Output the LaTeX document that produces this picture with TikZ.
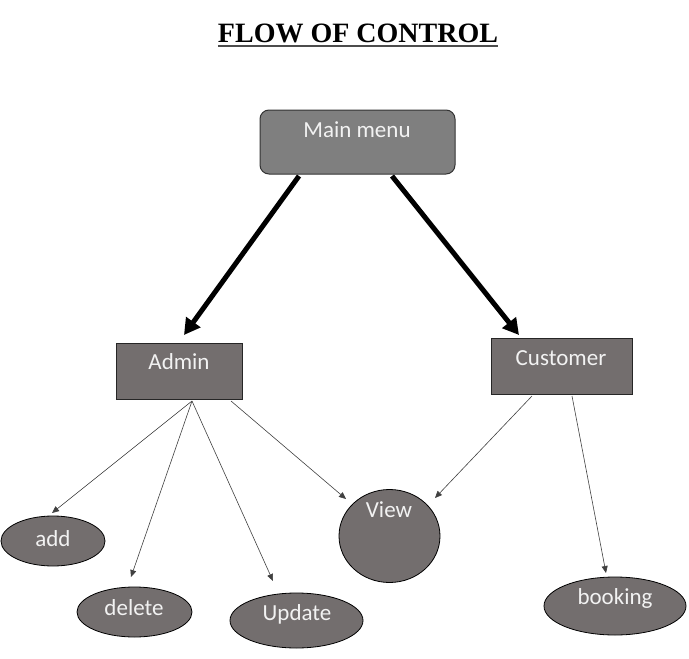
\documentclass[tikz,border=0pt]{standalone}
\usepackage{fontspec}
\setmainfont{Carlito}
\newfontfamily\titlefont{Liberation Serif}
\usetikzlibrary{arrows.meta,shapes.geometric}
\definecolor{menugray}{HTML}{7F7F7F}
\definecolor{boxgray}{HTML}{736E6E}
\definecolor{txt}{HTML}{F2F2F2}
\tikzset{
  lbl/.style={text=txt,font=\fontsize{23}{26}\selectfont,inner sep=0pt},
  rectbox/.style={draw=black!85,line width=1pt,fill=boxgray},
  ellbox/.style={ellipse,draw=black,line width=0.8pt,fill=boxgray,inner sep=0pt},
  bigarrow/.style={line width=5pt,-{Triangle[length=16pt,width=17pt]}},
  thinarrow/.style={draw=black!75,line width=0.6pt,-{Triangle[length=7pt,width=6pt]}}
}
\begin{document}
\begin{tikzpicture}[x=1pt,y=-1pt]
\useasboundingbox (0,0) rectangle (689,659);
% title
\node[font=\titlefont\bfseries\fontsize{28}{30}\selectfont,anchor=base,inner sep=0pt] (title) at (358,42) {FLOW OF CONTROL};
\draw[line width=1.4pt,black!70] (title.base west)++(0,4) coordinate (ul1) -- (ul1 -| title.base east);
% main menu
\node[draw=black!80,line width=1pt,fill=menugray,rounded corners=9pt,minimum width=195pt,minimum height=64pt] (menu) at (357.5,142) {};
\node[lbl] (menut) at (357,130) {Main menu};
% admin and customer
\node[rectbox,minimum width=126pt,minimum height=56pt] (admin) at (179,371) {};
\node[lbl] (admint) at (179,362) {Admin};
\node[rectbox,minimum width=141pt,minimum height=56pt] (cust) at (561.5,366) {};
\node[lbl] (custt) at (561,358) {Customer};
% leaves
\node[ellbox,minimum width=104pt,minimum height=50pt] (add) at (53,541) {};
\node[lbl] at (53,539) {add};
\node[ellbox,minimum width=115pt,minimum height=50pt] (del) at (134.5,612) {};
\node[lbl] at (134,608) {delete};
\node[ellbox,minimum width=133pt,minimum height=55pt] (upd) at (296.5,620.5) {};
\node[lbl] at (297,614) {Update};
\node[ellbox,minimum width=101pt,minimum height=93pt] (view) at (389.5,536) {};
\node[lbl] at (389,510) {View};
\node[ellbox,minimum width=142pt,minimum height=58pt] (book) at (615,606) {};
\node[lbl] at (615,598) {booking};
% connectors
\coordinate (m1) at (299,176);
\coordinate (m2) at (392,176);
\coordinate (a1) at (184,335);
\coordinate (c1) at (519,335);
\draw[bigarrow] (m1) -- (a1);
\draw[bigarrow] (m2) -- (c1);
\coordinate (ad1) at (192,401);
\coordinate (ad2) at (231,401);
\coordinate (cu1) at (532,396);
\coordinate (cu2) at (572,396);
\draw[thinarrow] (ad1) -- (52,513);
\draw[thinarrow] (ad1) -- (131,577);
\draw[thinarrow] (ad1) -- (273,581);
\draw[thinarrow] (ad2) -- (346,499);
\draw[thinarrow] (cu1) -- (435,498);
\draw[thinarrow] (cu2) -- (606,573);
\end{tikzpicture}
\end{document}
